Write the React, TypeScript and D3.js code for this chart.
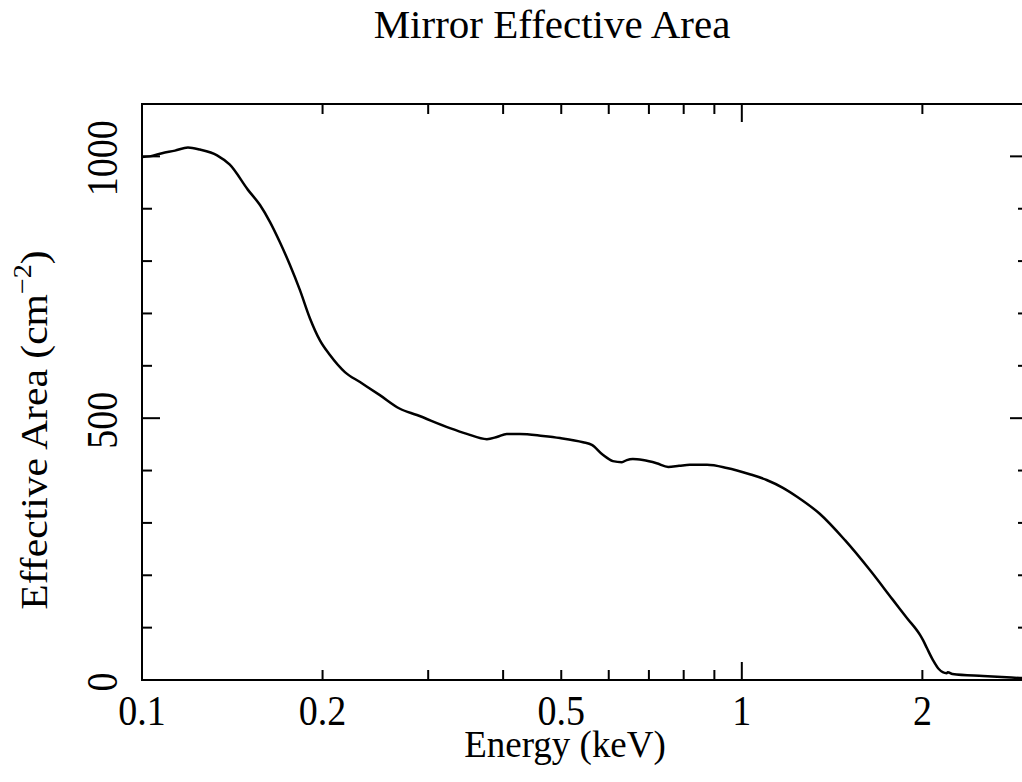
import React from 'react';
import * as d3 from 'd3';

// energy (keV) and mirror effective area (cm^2)
const energy = [
  0.1, 0.103, 0.108, 0.1135, 0.1193, 0.1249, 0.1334, 0.1401, 0.1502, 0.1573,
  0.1634, 0.1698, 0.1764, 0.1833, 0.1905, 0.1979, 0.2056, 0.2179, 0.2309, 0.2492,
  0.2692, 0.2873, 0.3261, 0.348, 0.3758, 0.3904, 0.4056, 0.4266, 0.4661, 0.4975,
  0.5436, 0.5623, 0.5865, 0.6095, 0.631, 0.643, 0.658, 0.684, 0.721, 0.754,
  0.786, 0.819, 0.875, 0.944, 1.031, 1.1, 1.171, 1.236, 1.35, 1.486,
  1.635, 1.786, 1.886, 1.982, 2.005, 2.035, 2.083, 2.13, 2.195, 2.205,
  2.245, 2.524, 2.91, 3.0,
];
const area = [
  999, 1000, 1006, 1011, 1017, 1013, 1002, 984, 936, 907,
  875, 836, 793, 745, 691, 649, 621, 588, 569, 544,
  518, 506, 481, 470, 460, 464, 470, 470, 466, 462,
  454, 449, 430, 418, 416, 420, 422, 420, 414, 407,
  409, 411, 411, 405, 393, 382, 367, 350, 317, 267,
  210, 153, 118, 86, 76, 61, 38, 21, 13, 15,
  11.5, 7.6, 3.8, 3,
];

const xMajor = [0.1, 1];
const xMinor = [0.2, 0.3, 0.4, 0.5, 0.6, 0.7, 0.8, 0.9, 2, 3];
const xLabels = [0.1, 0.2, 0.5, 1, 2];
const yTicks = d3.range(0, 1101, 100);
const yLabels = [0, 500, 1000];

const W = 1022, H = 782;
const left = 142, right = 1028, top = 104, bottom = 680;
const font = '"Liberation Serif", "Times New Roman", serif';

export default function App() {
  const x = d3.scaleLog().domain([0.1, 3]).range([left, right]);
  const y = d3.scaleLinear().domain([0, 1100]).range([bottom, top]);

  const pts: [number, number][] = energy.map((e, i) => [e, area[i]]);
  const line = d3.line<[number, number]>()
    .x(d => x(d[0]))
    .y(d => y(d[1]))
    .curve(d3.curveMonotoneX);

  const xt = [...xMajor.map(v => ({ v, len: 18 })), ...xMinor.map(v => ({ v, len: 10 }))];
  const yt = yTicks.map(v => ({ v, len: v % 500 === 0 ? 18 : 10 }));

  return (
    <svg width={W} height={H} style={{ position: 'absolute', left: 0, top: 0, background: '#fff' }}>
      <rect x={0} y={0} width={W} height={H} fill="#fff" />
      <text x={552} y={38} fontFamily={font} fontSize={41} textAnchor="middle">Mirror Effective Area</text>

      <g stroke="#000" strokeWidth={2}>
        {xt.map((t, i) => (
          <g key={'x' + i}>
            <line x1={x(t.v)} x2={x(t.v)} y1={bottom} y2={bottom - t.len} />
            <line x1={x(t.v)} x2={x(t.v)} y1={top} y2={top + t.len} />
          </g>
        ))}
        {yt.map((t, i) => (
          <g key={'y' + i}>
            <line x1={left} x2={left + t.len} y1={y(t.v)} y2={y(t.v)} />
            <line x1={right} x2={right - t.len} y1={y(t.v)} y2={y(t.v)} />
          </g>
        ))}
        <rect x={left} y={top} width={right - left} height={bottom - top} fill="none" />
      </g>

      <path d={line(pts) || ''} fill="none" stroke="#000" strokeWidth={2.5} strokeLinejoin="round" />

      {xLabels.map(v => (
        <text key={v} transform={`translate(${x(v)},725) scale(1,1.1)`} fontFamily={font} fontSize={38}
          textAnchor="middle">{v}</text>
      ))}
      {yLabels.map(v => (
        <text key={v} transform={`translate(117,${y(v) + 2}) rotate(-90) scale(1,1.14)`} fontFamily={font}
          fontSize={38} textAnchor="middle">{v}</text>
      ))}

      <text transform="translate(565,757) scale(1,1.04)" fontFamily={font} fontSize={37} textAnchor="middle">
        Energy (keV)
      </text>
      <text transform="translate(47,430) rotate(-90) scale(1.04,0.97)" fontFamily={font} fontSize={40}
        textAnchor="middle">
        Effective Area (cm<tspan fontSize={27} dy={-16}>−2</tspan><tspan dy={16}>)</tspan>
      </text>
    </svg>
  );
}
